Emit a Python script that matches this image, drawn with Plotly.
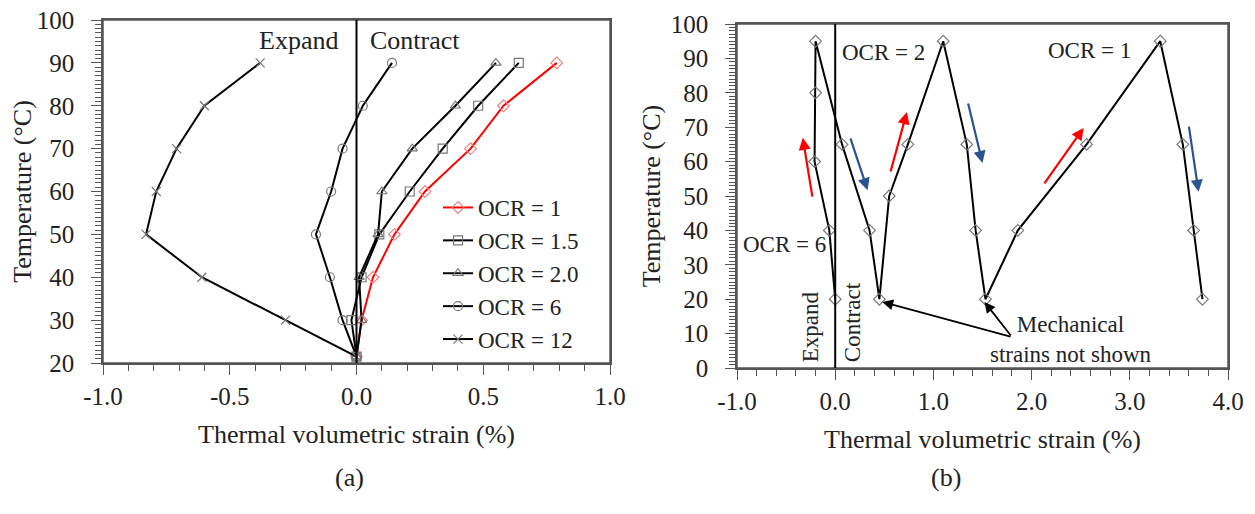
import plotly.graph_objects as go

# ---------------- Panel (a) data ----------------
temp_a = [21.5, 30, 40, 50, 60, 70, 80, 90]
ocr_1 = [0.0, 0.02, 0.065, 0.15, 0.27, 0.45, 0.58, 0.79]
ocr_1_5 = [0.0, -0.02, 0.02, 0.09, 0.21, 0.34, 0.48, 0.64]
ocr_2_0 = [0.0, 0.02, 0.01, 0.085, 0.10, 0.22, 0.39, 0.55]
ocr_6 = [0.0, -0.055, -0.105, -0.16, -0.10, -0.055, 0.025, 0.14]
ocr_12 = [0.0, -0.28, -0.61, -0.83, -0.79, -0.71, -0.60, -0.38]
xticks_a = [-1.0, -0.5, 0.0, 0.5, 1.0]
xticklabels_a = ["-1.0", "-0.5", "0.0", "0.5", "1.0"]
yticks_a = [20, 30, 40, 50, 60, 70, 80, 90, 100]

# ---------------- Panel (b) data (one continuous path: OCR 6 -> 2 -> 1) ----------------
strain_b = [0.0, -0.06, -0.21, -0.20, -0.20, 0.07, 0.35, 0.45,
            0.55, 0.74, 1.10, 1.34, 1.43, 1.53,
            1.86, 2.56, 3.31, 3.54, 3.65, 3.74]
temp_b = [20, 40, 60, 80, 95, 65, 40, 20,
          50, 65, 95, 65, 40, 20,
          40, 65, 95, 65, 40, 20]
xticks_b = [-1.0, 0.0, 1.0, 2.0, 3.0, 4.0]
xticklabels_b = ["-1.0", "0.0", "1.0", "2.0", "3.0", "4.0"]
yticks_b = [0, 10, 20, 30, 40, 50, 60, 70, 80, 90, 100]

# heating (red) / cooling (blue) arrows: tail -> tip, data coords
heat_tail_x = [-0.23, 0.56, 2.12]
heat_tail_y = [49.4, 56.7, 53.2]
heat_tip_x = [-0.33, 0.73, 2.53]
heat_tip_y = [66.9, 74.4, 69.8]
cool_tail_x = [0.15, 1.35, 3.60]
cool_tail_y = [67.2, 77.3, 70.6]
cool_tip_x = [0.33, 1.50, 3.70]
cool_tip_y = [51.7, 59.6, 51.2]

FONT = "Liberation Serif"
TXT = "#222"
AX = "#555"

# page has an 8px body margin: figure is 1247x506 placed at (8, 8)
W, H = 1247, 506

fig = go.Figure()

series_a = [
    ("OCR = 1", ocr_1, "red", "diamond-open", "#f08080"),
    ("OCR = 1.5", ocr_1_5, "black", "square-open", "#777"),
    ("OCR = 2.0", ocr_2_0, "black", "triangle-up-open", "#777"),
    ("OCR = 6", ocr_6, "black", "circle-open", "#777"),
    ("OCR = 12", ocr_12, "black", "x-thin-open", "#777"),
]
for name, xs, lc, sym, mc in series_a:
    fig.add_trace(go.Scatter(
        x=xs, y=temp_a, name=name, mode="lines+markers",
        line=dict(color=lc, width=2),
        marker=dict(symbol=sym, size=9, color=mc, line=dict(color=mc, width=1.2)),
        xaxis="x", yaxis="y", cliponaxis=False,
    ))

fig.add_trace(go.Scatter(
    x=strain_b, y=temp_b, mode="lines+markers", showlegend=False,
    line=dict(color="black", width=2),
    marker=dict(symbol="diamond-open", size=9, color="#777", line=dict(color="#777", width=1.2)),
    xaxis="x2", yaxis="y2",
))

axis_common = dict(
    showline=True, mirror=True, linecolor=AX, linewidth=1.5, automargin=False,
    showgrid=False, zeroline=False, ticks="outside", ticklen=10, tickwidth=1.2,
    tickcolor=AX, tickfont=dict(family=FONT, size=25, color=TXT),
    ticklabeloverflow="allow",
)
title_font = dict(family=FONT, size=26, color=TXT)


def px_x(p):
    return (p - 8) / W


def px_y(p):
    return (514 - p) / H


fig.update_layout(
    width=W, height=H,
    margin=dict(l=0, r=0, t=0, b=0, autoexpand=False),
    paper_bgcolor="white", plot_bgcolor="white",
    font=dict(family=FONT, size=25, color=TXT),
    xaxis=dict(domain=[px_x(103), px_x(610)], anchor="y", range=[-1.0, 1.0],
               tickvals=xticks_a, ticktext=xticklabels_a,
               minor=dict(dtick=0.1, ticks="outside", ticklen=6, tickcolor=AX),
               title=dict(text="Thermal volumetric strain (%)", font=title_font, standoff=16),
               **axis_common),
    yaxis=dict(domain=[px_y(363), px_y(20)], anchor="x", range=[20, 100],
               tickvals=yticks_a, ticklabelstandoff=12,
               minor=dict(dtick=1, ticks="outside", ticklen=6, tickcolor=AX),
               title=dict(text="Temperature (°C)", font=title_font, standoff=0),
               **axis_common),
    xaxis2=dict(domain=[px_x(737), px_x(1228)], anchor="y2", range=[-1.0, 4.0],
                tickvals=xticks_b, ticktext=xticklabels_b,
                minor=dict(dtick=0.2, ticks="outside", ticklen=6, tickcolor=AX),
                title=dict(text="Thermal volumetric strain (%)", font=title_font, standoff=16),
                **axis_common),
    yaxis2=dict(domain=[px_y(368), px_y(24)], anchor="x2", range=[0, 100],
                tickvals=yticks_b, ticklabelstandoff=12,
                minor=dict(dtick=1, ticks="outside", ticklen=6, tickcolor=AX),
                title=dict(text="Temperature (°C)", font=title_font, standoff=3),
                **axis_common),
    legend=dict(x=px_x(438), y=px_y(186), xanchor="left", yanchor="top",
                bgcolor="rgba(255,255,255,0)", font=dict(family=FONT, size=23, color=TXT),
                tracegroupgap=0, itemwidth=30),
    showlegend=True,
)

# plot frames and vertical zero lines
for xr, yr in [("x", "y"), ("x2", "y2")]:
    fig.add_shape(type="rect", xref=xr + " domain", yref=yr + " domain", x0=0, x1=1, y0=0, y1=1,
                  line=dict(color=AX, width=1.5), layer="above")
    fig.add_shape(type="line", xref=xr, yref=yr + " domain", x0=0, x1=0, y0=0, y1=1,
                  line=dict(color="black", width=2))

ann = []
# panel (a) texts
ann.append(dict(x=-0.23, y=95.3, xref="x", yref="y", text="Expand", showarrow=False,
                font=dict(size=26, color=TXT)))
ann.append(dict(x=0.23, y=95.3, xref="x", yref="y", text="Contract", showarrow=False,
                font=dict(size=26, color=TXT)))
# panel (b) texts
ann.append(dict(x=0.49, y=91.6, xref="x2", yref="y2", text="OCR = 2", showarrow=False,
                font=dict(size=23, color=TXT)))
ann.append(dict(x=2.59, y=92.4, xref="x2", yref="y2", text="OCR = 1", showarrow=False,
                font=dict(size=23, color=TXT)))
ann.append(dict(x=-0.52, y=35.8, xref="x2", yref="y2", text="OCR = 6", showarrow=False,
                font=dict(size=23, color=TXT)))
ann.append(dict(x=-0.25, y=12.0, xref="x2", yref="y2", text="Expand", showarrow=False,
                textangle=-90, font=dict(size=23, color=TXT)))
ann.append(dict(x=0.17, y=13.3, xref="x2", yref="y2", text="Contract", showarrow=False,
                textangle=-90, font=dict(size=23, color=TXT)))
ann.append(dict(x=2.40, y=8.2, xref="x2", yref="y2",
                text="Mechanical<br>strains not shown", showarrow=False,
                font=dict(size=23, color=TXT), align="center"))
# mechanical strain arrows
for tx in [0.48, 1.52]:
    ann.append(dict(x=tx, y=19.2, xref="x2", yref="y2", ax=1.80, ay=9.0,
                    axref="x2", ayref="y2", showarrow=True, arrowhead=2, arrowsize=1.2,
                    arrowwidth=1.8, arrowcolor="black", text=""))
# heating / cooling arrows
for tx, ty, hx, hy in zip(heat_tail_x, heat_tail_y, heat_tip_x, heat_tip_y):
    ann.append(dict(x=hx, y=hy, xref="x2", yref="y2", ax=tx, ay=ty,
                    axref="x2", ayref="y2", showarrow=True, arrowhead=2, arrowsize=1.1,
                    arrowwidth=2.2, arrowcolor="red", text=""))
for tx, ty, hx, hy in zip(cool_tail_x, cool_tail_y, cool_tip_x, cool_tip_y):
    ann.append(dict(x=hx, y=hy, xref="x2", yref="y2", ax=tx, ay=ty,
                    axref="x2", ayref="y2", showarrow=True, arrowhead=2, arrowsize=1.1,
                    arrowwidth=2.2, arrowcolor="#2a5490", text=""))
# sub-figure labels
ann.append(dict(x=px_x(333), y=px_y(494), xref="paper", yref="paper", text="(a)",
                showarrow=False, font=dict(size=26, color=TXT)))
ann.append(dict(x=px_x(963), y=px_y(494), xref="paper", yref="paper", text="(b)",
                showarrow=False, font=dict(size=26, color=TXT)))

fig.update_layout(annotations=ann)

fig.write_html("out.html")
